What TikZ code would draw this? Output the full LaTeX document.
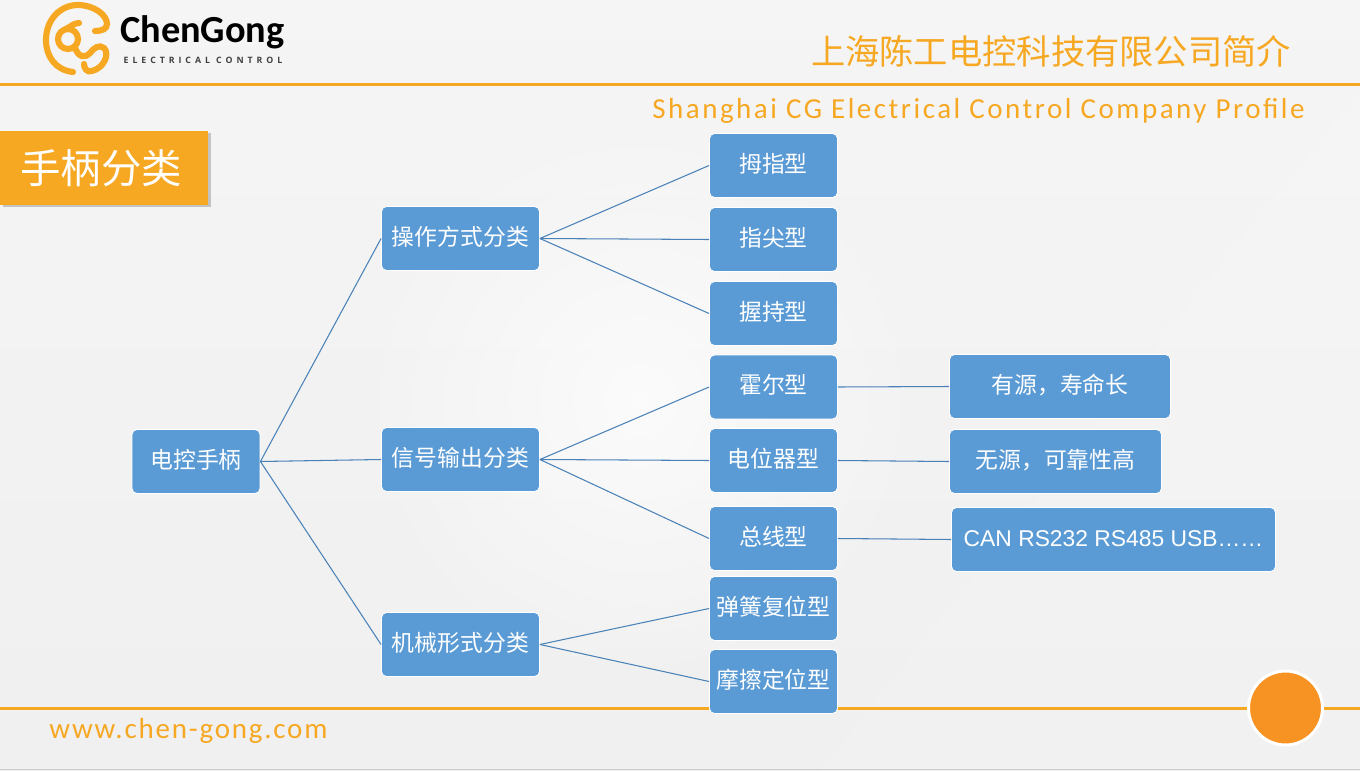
\documentclass[tikz,border=0pt]{standalone}
\usepackage{fontspec}
\usetikzlibrary{shadows,fadings}
\setmainfont{Liberation Sans}
\newfontfamily\cjkfont{Noto Sans CJK SC}
\newfontfamily\headfont[LetterSpace=8.7]{Carlito}
\newfontfamily\webfont[LetterSpace=6.2]{Carlito}
\newfontfamily\logofont{Carlito}
\newfontfamily\logosmall[LetterSpace=45]{Open Sans}
\definecolor{cgorange}{HTML}{F7A823}
\definecolor{cgdot}{HTML}{F69322}
\definecolor{cgblue}{HTML}{5B9BD5}
\definecolor{cgline}{HTML}{4A82B8}
\tikzfading[name=glowfade,inner color=transparent!30,outer color=transparent!100]
\tikzset{
    baseBox/.style={draw=white,line width=0.5pt,fill=cgblue,rounded corners=2.8pt,inner sep=0pt,text=white,text height=11pt,text depth=3.2pt,font=\cjkfont\fontsize{13pt}{15pt}\selectfont},
    midBox/.style={baseBox,minimum width=3.16cm,minimum height=1.28cm},
    leafBox/.style={baseBox,minimum width=2.56cm,minimum height=1.28cm},
    link/.style={cgline,line width=0.6pt},
    rule/.style={cgorange,line width=1.7pt},
    logoLine/.style={cgorange,line width=3.5pt,line cap=round}
}
\begin{document}
\begin{tikzpicture}[x=0.02cm,y=-0.02cm]
        \useasboundingbox (0,0) rectangle (1360,771);

        %Background
        \shade[top color=black!4,bottom color=black!6] (0,0) rectangle (1360,771);
        \fill[white,path fading=glowfade] (640,400) circle (290);
        \fill[white,opacity=0.1] (820,771) -- (1360,90) -- (1360,771) -- cycle;
        \draw[black!20,line width=1pt] (0,769.5) -- (1360,769.5);
        \draw[rule] (0,84.5) -- (1360,84.5);
        \draw[rule] (0,708.5) -- (1360,708.5);

        %Logo
        \draw[logoLine] (73,72) .. controls (55,70) and (46,56) .. (46,40) .. controls (46,20) and (60,5) .. (78,5) .. controls (94,5) and (107,15) .. (107,24) .. controls (107,29) and (102,31) .. (95,31);
        \draw[logoLine] (68,39) circle (10);
        \draw[logoLine] (79,23) .. controls (74,23) and (70,27) .. (66,29);
        \draw[logoLine] (75,48) .. controls (79,58) and (85,58) .. (90,53) .. controls (94,48) and (99,44) .. (104,48) .. controls (110,54) and (104,68) .. (92,71) .. controls (87,73) and (84,68) .. (84,64);
        \node[font=\logofont\bfseries\fontsize{21.8pt}{24pt}\selectfont,text=black,inner sep=0pt] (logoName) at (202.5,32) {ChenGong};
        \node[font=\logosmall\bfseries\fontsize{5pt}{6pt}\selectfont,text=black!75,inner sep=0pt] (logoSub) at (203,60.5) {ELECTRICAL CONTROL};

        %Header and footer
        \node[font=\cjkfont\fontsize{19.5pt}{22pt}\selectfont,text=cgorange,inner sep=0pt] (titleCn) at (1051,51) {上海陈工电控科技有限公司简介};
        \node[font=\headfont\fontsize{16.5pt}{18pt}\selectfont,text=cgorange,inner sep=0pt] (titleEn) at (978.5,111) {Shanghai CG Electrical Control Company Profile};
        \node[font=\webfont\fontsize{16.5pt}{18pt}\selectfont,text=cgorange,inner sep=0pt] (website) at (188.5,731) {www.chen-gong.com};
        \node[circle,fill=cgdot,draw=white,line width=1.7pt,minimum size=1.48cm,inner sep=0pt] (pageDot) at (1285.5,708) {};

        %Tag
        \node[fill=cgorange,minimum width=4.16cm,minimum height=1.48cm,inner sep=0pt,text=white,font=\cjkfont\fontsize{23pt}{26pt}\selectfont,drop shadow={shadow xshift=1.5pt,shadow yshift=-1pt,fill=black,opacity=0.2}] (tagBox) at (104,168) {\hspace{-3pt}\raisebox{-1.2pt}{手柄分类}};

        %Root and groups
        \node[leafBox] (handle) at (196,461.5) {电控手柄};
        \node[midBox] (operate) at (460.5,238.5) {操作方式分类};
        \node[midBox] (signal) at (460.5,459.5) {信号输出分类};
        \node[midBox] (mechanic) at (460.5,644.5) {机械形式分类};

        %Types
        \node[leafBox] (thumb) at (773.5,165.5) {拇指型};
        \node[leafBox] (fingertip) at (773.5,239.5) {指尖型};
        \node[leafBox] (grip) at (773.5,313.5) {握持型};
        \node[leafBox] (hall) at (773.5,387) {霍尔型};
        \node[leafBox] (potentiometer) at (773.5,460.5) {电位器型};
        \node[leafBox] (bus) at (773.5,538.5) {总线型};
        \node[leafBox] (spring) at (773.5,608.5) {弹簧复位型};
        \node[leafBox] (friction) at (773.5,681.5) {摩擦定位型};

        %Details
        \node[baseBox,minimum width=4.42cm,minimum height=1.28cm] (hallNote) at (1060,386.5) {有源，寿命长};
        \node[baseBox,minimum width=4.24cm,minimum height=1.28cm] (potNote) at (1055.5,461.5) {无源，可靠性高};
        \node[baseBox,minimum width=6.48cm,minimum height=1.28cm,font=\fontsize{13pt}{15pt}\selectfont] (busNote) at (1113.5,539.5) {CAN RS232 RS485 USB……};

        \draw[link] (handle.east) -- (operate.west);
        \draw[link] (handle.east) -- (signal.west);
        \draw[link] (handle.east) -- (mechanic.west);
        \draw[link] (operate.east) -- (thumb.west);
        \draw[link] (operate.east) -- (fingertip.west);
        \draw[link] (operate.east) -- (grip.west);
        \draw[link] (signal.east) -- (hall.west);
        \draw[link] (signal.east) -- (potentiometer.west);
        \draw[link] (signal.east) -- (bus.west);
        \draw[link] (mechanic.east) -- (spring.west);
        \draw[link] (mechanic.east) -- (friction.west);
        \draw[link] (hall.east) -- (hallNote.west);
        \draw[link] (potentiometer.east) -- (potNote.west);
        \draw[link] (bus.east) -- (busNote.west);
    \end{tikzpicture}
\end{document}
